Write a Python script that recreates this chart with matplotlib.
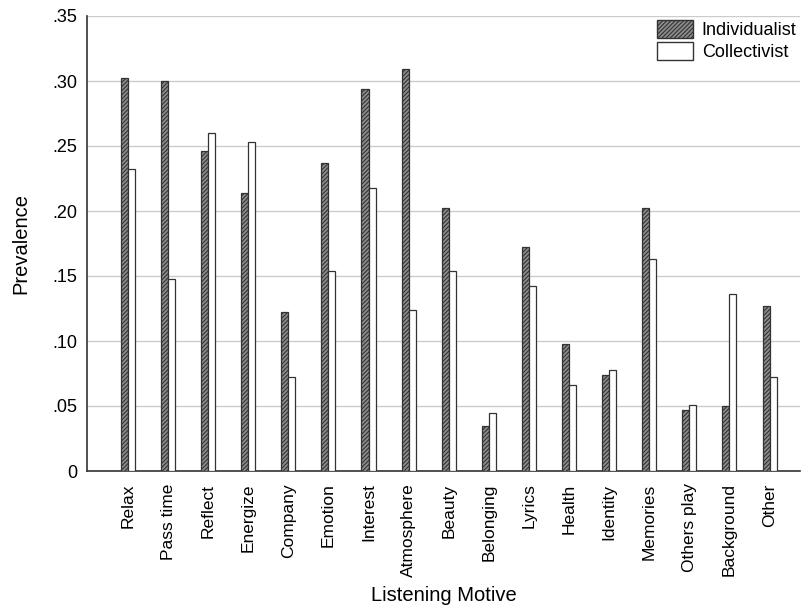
import matplotlib
matplotlib.use("Agg")
import matplotlib.pyplot as plt
import numpy as np
from matplotlib.patches import Patch

categories = ["Relax", "Pass time", "Reflect", "Energize", "Company", "Emotion",
              "Interest", "Atmosphere", "Beauty", "Belonging", "Lyrics", "Health",
              "Identity", "Memories", "Others play", "Background", "Other"]
individualist = [0.302, 0.300, 0.246, 0.214, 0.122, 0.237, 0.294, 0.309, 0.202,
                 0.035, 0.172, 0.098, 0.074, 0.202, 0.047, 0.050, 0.127]
collectivist = [0.232, 0.148, 0.260, 0.253, 0.072, 0.154, 0.218, 0.124, 0.154,
                0.045, 0.142, 0.066, 0.078, 0.163, 0.051, 0.136, 0.072]
yticks = [0, 0.05, 0.10, 0.15, 0.20, 0.25, 0.30, 0.35]
yticklabels = ["0", ".05", ".10", ".15", ".20", ".25", ".30", ".35"]

plt.rcParams['font.family'] = ['Liberation Sans', 'DejaVu Sans']
plt.rcParams['hatch.linewidth'] = 0.8
plt.rcParams['hatch.color'] = '#2a2a2a'

fig = plt.figure(figsize=(8.01, 6.06), dpi=100)
ax = fig.add_axes([87/801, (606-471)/606, (800-87)/801, (471-16)/606])

x = np.arange(len(categories))
w = 0.175
ax.bar(x - w/2, individualist, width=w, facecolor='#8c8c8c', edgecolor='#333333',
       hatch='////////', linewidth=0.9, zorder=3, label='Individualist')
ax.bar(x + w/2, collectivist, width=w, facecolor='white', edgecolor='#333333',
       linewidth=0.9, zorder=3, label='Collectivist')

ax.set_ylim(0, 0.35)
ax.set_xlim(-1.02, 16.76)
ax.set_yticks(yticks)
ax.set_yticklabels(yticklabels, fontsize=13)
ax.set_xticks(x)
ax.set_xticklabels(categories, rotation=90, fontsize=12.5)
ax.tick_params(axis='x', length=0, pad=9)
ax.tick_params(axis='y', length=0, pad=7)
ax.yaxis.grid(True, color='#cccccc', linewidth=1, zorder=0)
ax.set_axisbelow(True)
for s in ['top', 'right']:
    ax.spines[s].set_visible(False)
for s in ['left', 'bottom']:
    ax.spines[s].set_color('#333333')
    ax.spines[s].set_linewidth(1.2)

ax.set_ylabel("Prevalence", fontsize=14.5)
ax.yaxis.set_label_coords(-0.08, 0.5)
ax.set_xlabel("Listening Motive", fontsize=14.5)
ax.xaxis.set_label_coords(0.5, (471 - 586) / 455)

handles = [Patch(facecolor='#8c8c8c', edgecolor='#333333', hatch='////////', label='Individualist'),
           Patch(facecolor='white', edgecolor='#333333', label='Collectivist')]
leg = ax.legend(handles=handles, loc='upper right', bbox_to_anchor=(1.0, 1.0), frameon=False,
                fontsize=13, handlelength=2.0, handleheight=1.2, handletextpad=0.5,
                labelspacing=0.15, borderaxespad=0.0, borderpad=0.2)

fig.savefig("out.png", dpi=100)
